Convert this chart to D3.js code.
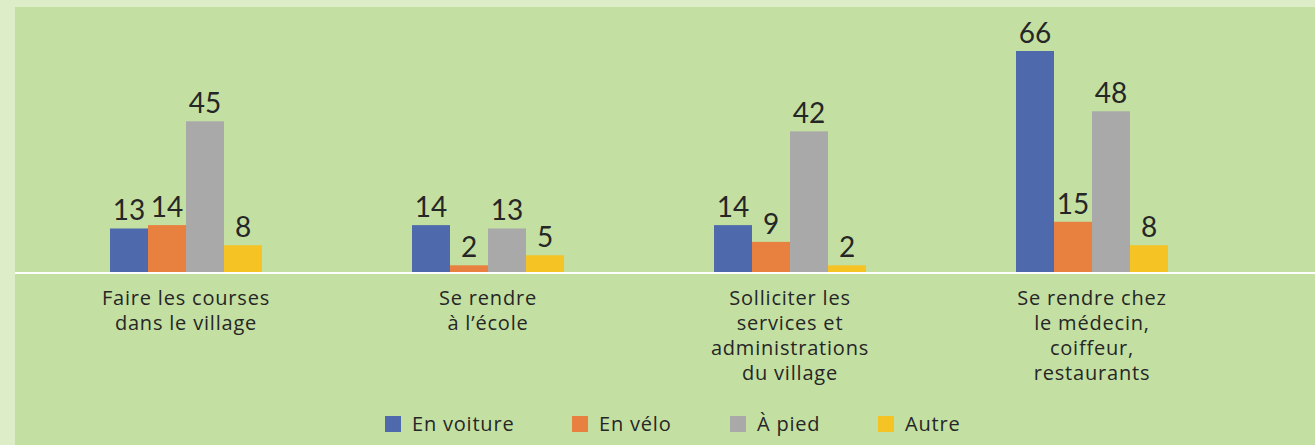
<html>
<head>
<script src="https://d3js.org/d3.v7.min.js"></script>
<style>
  body { margin: 0; background: #dcedc8; }
  svg { display: block; }
  .val { font-family: Lato, "Open Sans", sans-serif; font-size: 28px; fill: #262626; text-anchor: middle; }
  .cat { font-family: "Open Sans", sans-serif; font-size: 20px; letter-spacing: 0.8px; fill: #262626; text-anchor: middle; }
  .leg { font-family: "Open Sans", sans-serif; font-size: 20px; letter-spacing: 0.8px; fill: #262626; }
</style>
</head>
<body>
<svg id="chart" width="1315" height="445"></svg>
<script>
const categories = [
  ["Faire les courses", "dans le village"],
  ["Se rendre", "à l’école"],
  ["Solliciter les", "services et", "administrations", "du village"],
  ["Se rendre chez", "le médecin,", "coiffeur,", "restaurants"]
];
const seriesNames = ["En voiture", "En vélo", "À pied", "Autre"];
const seriesColors = ["#4e6aad", "#e8803f", "#a9a9a9", "#f5c324"];
const voiture = [13, 14, 14, 66];
const velo = [14, 2, 9, 15];
const pied = [45, 13, 42, 48];
const autre = [8, 5, 2, 8];
const seriesValues = [voiture, velo, pied, autre];

const svg = d3.select("svg#chart");
const width = +svg.attr("width");
const height = +svg.attr("height");

// inner green panel
svg.append("rect")
  .attr("x", 15).attr("y", 7)
  .attr("width", width - 15).attr("height", height - 7)
  .attr("fill", "#c3e0a2");

const baseline = 272;
const x0 = d3.scaleBand().domain(d3.range(categories.length)).range([35, 1243]).paddingInner(0).paddingOuter(0);
const x1 = d3.scaleBand().domain(d3.range(seriesNames.length)).range([0, 152]);
const y = d3.scaleLinear().domain([0, 66]).range([baseline, 51]);

const groups = svg.append("g").selectAll("g")
  .data(categories)
  .join("g")
  .attr("transform", (d, i) => `translate(${x0(i) + (x0.bandwidth() - 152) / 2},0)`);

groups.each(function(c, ci) {
  const g = d3.select(this);
  seriesValues.forEach((vals, si) => {
    g.append("rect")
      .attr("x", x1(si))
      .attr("y", y(vals[ci]))
      .attr("width", x1.bandwidth())
      .attr("height", baseline - y(vals[ci]))
      .attr("fill", seriesColors[si]);
    g.append("text")
      .attr("class", "val")
      .attr("x", x1(si) + x1.bandwidth() / 2)
      .attr("y", y(vals[ci]) - 8)
      .text(vals[ci]);
  });
});

// baseline
svg.append("line")
  .attr("x1", 15).attr("x2", width)
  .attr("y1", baseline + 1).attr("y2", baseline + 1)
  .attr("stroke", "#ffffff").attr("stroke-width", 2);

// category labels
categories.forEach((lines, i) => {
  const t = svg.append("text").attr("class", "cat")
    .attr("x", x0(i) + x0.bandwidth() / 2).attr("y", 305);
  lines.forEach((l, k) => {
    t.append("tspan").attr("x", x0(i) + x0.bandwidth() / 2)
      .attr("dy", k === 0 ? 0 : 25).text(l);
  });
});

// legend
const legendX = [385, 572, 730, 878];
const legend = svg.append("g").attr("transform", "translate(0,416)");
seriesNames.forEach((n, i) => {
  legend.append("rect").attr("x", legendX[i]).attr("y", 0)
    .attr("width", 16).attr("height", 16).attr("fill", seriesColors[i]);
  legend.append("text").attr("class", "leg")
    .attr("x", legendX[i] + 27).attr("y", 15).text(n);
});
</script>
</body>
</html>
